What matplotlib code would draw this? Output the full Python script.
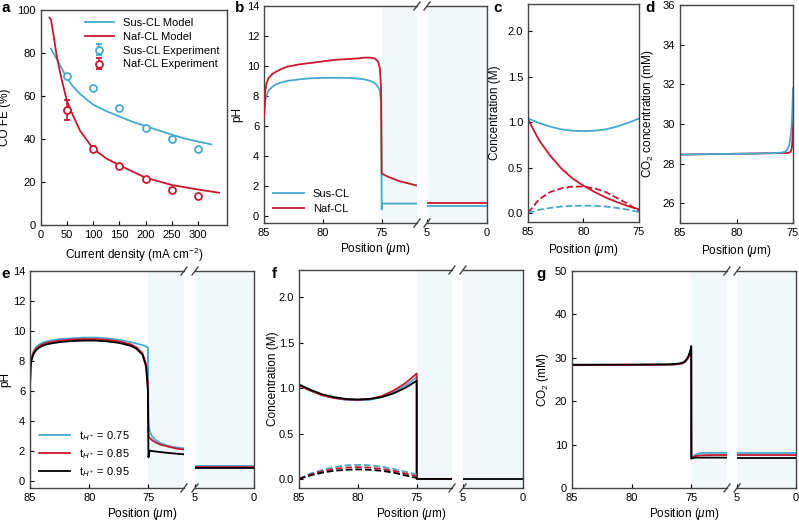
import numpy as np
import matplotlib
matplotlib.use("Agg")
import matplotlib.pyplot as plt
from matplotlib.lines import Line2D

plt.rcParams['font.family'] = ['Liberation Sans', 'DejaVu Sans']
plt.rcParams['mathtext.fontset'] = 'custom'
plt.rcParams['mathtext.rm'] = 'Liberation Sans'
plt.rcParams['mathtext.it'] = 'Liberation Sans:italic'
plt.rcParams['font.size'] = 8
plt.rcParams['axes.edgecolor'] = '#444444'
plt.rcParams['axes.linewidth'] = 1.0
plt.rcParams['xtick.direction'] = 'in'
plt.rcParams['ytick.direction'] = 'in'
plt.rcParams['xtick.major.size'] = 3
plt.rcParams['ytick.major.size'] = 3

BLUE = '#45aacb'
RED = '#c8182f'
BLACK = '#000000'
SHADE = '#f2f7f9'

########### données panneau a (FE CO)
sus_model_j = [20, 30, 40, 50, 60, 75, 100, 125, 150, 175, 200, 225, 250, 275, 300, 325]
sus_model_fe = [82, 77.5, 73, 68.5, 65, 61, 56, 53, 50.5, 48, 46, 44, 42, 40.2, 38.8, 37.5]
naf_model_j = [17, 20, 25, 30, 35, 40, 50, 60, 75, 100, 125, 150, 200, 250, 300, 340]
naf_model_fe = [96.5, 95.5, 88, 80, 73.5, 68, 58, 52, 44, 35.5, 31, 27.8, 22, 18.6, 16.5, 15]
exp_j = [50, 100, 150, 200, 250, 300]
sus_exp_fe = [69.5, 63.5, 54.5, 45.3, 40.0, 35.2]
sus_exp_err = [0.8, 0.8, 0.8, 0.8, 0.8, 0.8]
naf_exp_fe = [53.5, 35.5, 27.3, 21.2, 16.5, 13.5]
naf_exp_err = [4.5, 1.2, 0.8, 0.8, 0.8, 0.6]

########### panneau b (pH Sus-CL / Naf-CL)
b_x = [85, 84.9, 84.8, 84.6, 84.3, 84, 83.5, 83, 82, 81, 80, 79, 78, 77, 76.5, 76, 75.6, 75.3,
       75.15, 75.05, 75.0, 74.98, 74.5, 74, 73.5, 73, 72.5, 72]
b_sus = [6.6, 7.6, 8.0, 8.35, 8.6, 8.75, 8.9, 9.0, 9.1, 9.17, 9.2, 9.2, 9.2, 9.15, 9.1, 9.0, 8.85, 8.6,
         8.3, 7.5, 0.4, 0.8, 0.8, 0.8, 0.8, 0.8, 0.8, 0.8]
b_naf = [6.6, 8.2, 8.8, 9.2, 9.45, 9.6, 9.8, 9.95, 10.1, 10.2, 10.3, 10.4, 10.45, 10.5, 10.55, 10.55, 10.5, 10.3,
         9.8, 8.5, 2.85, 2.8, 2.6, 2.45, 2.3, 2.2, 2.1, 2.0]
b_x_right = [5, 0]
b_sus_right = [0.65, 0.65]
b_naf_right = [0.85, 0.85]

########### panneau c (concentrations)
c_x = [85, 84, 83, 82, 81, 80, 79, 78, 77, 76, 75]
c_sus_solid = [1.04, 0.99, 0.95, 0.92, 0.905, 0.9, 0.905, 0.92, 0.95, 0.99, 1.04]
c_naf_solid = [1.03, 0.8, 0.63, 0.49, 0.38, 0.3, 0.23, 0.17, 0.12, 0.075, 0.04]
c_sus_dash = [0.0, 0.035, 0.055, 0.07, 0.078, 0.08, 0.078, 0.07, 0.055, 0.035, 0.01]
c_naf_dash = [0.0, 0.15, 0.23, 0.27, 0.29, 0.29, 0.27, 0.23, 0.165, 0.1, 0.02]

########### panneau d (CO2)
d_x = [85, 82, 79, 77, 76, 75.7, 75.5, 75.35, 75.2, 75.1, 75.04, 75.0]
d_sus = [28.45, 28.48, 28.5, 28.52, 28.55, 28.6, 28.7, 28.9, 29.4, 30.1, 31.0, 31.8]
d_naf = [28.45, 28.48, 28.5, 28.52, 28.53, 28.53, 28.53, 28.55, 28.6, 28.8, 29.3, 30.2]

########### panneau e (pH, t_H+)
e_x = [85, 84.95, 84.85, 84.7, 84.5, 84.2, 83.8, 83.3, 82.5, 81.5, 80.5, 79.5, 78.5, 77.5, 76.5, 76, 75.5,
       75.2, 75.05, 75.0, 74.9, 74.7, 74.4, 74, 73.5, 73, 72.5, 72]
e_075 = [6.3, 7.8, 8.3, 8.65, 8.9, 9.1, 9.25, 9.35, 9.45, 9.5, 9.55, 9.55, 9.5, 9.4, 9.25, 9.15, 9.05,
         8.95, 8.9, 3.9, 3.3, 2.95, 2.7, 2.5, 2.35, 2.25, 2.2, 2.15]
e_085 = [6.3, 7.7, 8.2, 8.55, 8.8, 9.0, 9.15, 9.25, 9.35, 9.42, 9.45, 9.45, 9.4, 9.3, 9.1, 8.9, 8.5,
         7.8, 6.5, 3.0, 2.85, 2.7, 2.55, 2.4, 2.3, 2.2, 2.12, 2.07]
e_095 = [6.3, 7.6, 8.1, 8.45, 8.7, 8.9, 9.05, 9.15, 9.25, 9.32, 9.35, 9.35, 9.3, 9.2, 9.0, 8.8, 8.4,
         7.6, 6.0, 1.55, 2.0, 1.97, 1.94, 1.9, 1.86, 1.82, 1.78, 1.75]
e_x_right = [5, 0]
e_right = {'0.75': [0.95, 0.95], '0.85': [0.92, 0.92], '0.95': [0.85, 0.85]}

########### panneau f (concentrations, t_H+)
f_x = [85, 84, 83, 82, 81, 80, 79, 78, 77, 76, 75, 75.0, 72]
f_075 = [1.03, 0.97, 0.92, 0.89, 0.87, 0.865, 0.87, 0.9, 0.95, 1.02, 1.12, 0.0, 0.0]
f_085 = [1.03, 0.97, 0.92, 0.89, 0.875, 0.87, 0.88, 0.91, 0.97, 1.05, 1.16, 0.0, 0.0]
f_095 = [1.04, 0.98, 0.93, 0.9, 0.88, 0.875, 0.88, 0.9, 0.94, 1.0, 1.08, 0.0, 0.0]
f_xd = [85, 84, 83, 82, 81, 80, 79, 78, 77, 76, 75]
f_075_d = [0.0, 0.06, 0.1, 0.13, 0.15, 0.155, 0.15, 0.135, 0.11, 0.08, 0.05]
f_085_d = [0.0, 0.05, 0.085, 0.11, 0.125, 0.13, 0.125, 0.11, 0.09, 0.06, 0.03]
f_095_d = [0.0, 0.04, 0.07, 0.09, 0.1, 0.105, 0.1, 0.09, 0.07, 0.04, 0.01]
f_x_right = [5, 0]
f_right = [0.0, 0.0]

########### panneau g (CO2, t_H+)
g_x = [85, 80, 77, 76.5, 76, 75.7, 75.5, 75.3, 75.15, 75.05, 75.0, 74.99, 74.7, 74.3, 74, 73, 72]
g_075 = [28.3, 28.35, 28.4, 28.45, 28.55, 28.75, 29.1, 29.8, 30.7, 31.6, 32.2, 6.8, 7.6, 8.0, 8.1, 8.1, 8.1]
g_085 = [28.3, 28.35, 28.4, 28.45, 28.55, 28.75, 29.1, 29.8, 30.7, 31.6, 32.2, 6.8, 7.3, 7.5, 7.55, 7.6, 7.6]
g_095 = [28.4, 28.45, 28.5, 28.55, 28.7, 28.9, 29.3, 30.0, 31.0, 32.0, 32.7, 6.8, 7.0, 7.0, 7.0, 7.0, 7.0]
g_x_right = [5, 0]
g_right = {'0.75': [8.1, 8.1], '0.85': [7.6, 7.6], '0.95': [7.0, 7.0]}

t_labels = [r'$\mathregular{t}_{H^+}$ = 0.75', r'$\mathregular{t}_{H^+}$ = 0.85', r'$\mathregular{t}_{H^+}$ = 0.95']

W, H = 799, 522
fig = plt.figure(figsize=(W / 100, H / 100), dpi=100)


def box(x0, x1, y0, y1):
    # coordonnées pixels -> fraction de figure
    return [x0 / W, 1 - y1 / H, (x1 - x0) / W, (y1 - y0) / H]


def ylab(ax, texte, x_px, x0, x1):
    # x_px = centre voulu du label ; l'ancre du label y est son bord droit (~5 px plus loin)
    ax.set_ylabel(texte, fontsize=8.5)
    ax.yaxis.set_label_coords((x_px + 5 - x0) / (x1 - x0), 0.5)


def broken(xl0, xl1, xr0, xr1, y0, y1, ylim, yticks):
    axl = fig.add_axes(box(xl0, xl1, y0, y1))
    axr = fig.add_axes(box(xr0, xr1, y0, y1))
    axl.set_xlim(85, 72)
    axr.set_xlim(5, 0)
    for ax in (axl, axr):
        ax.set_ylim(*ylim)
    axl.set_yticks(yticks)
    axr.set_yticks([])
    axl.set_xticks([85, 80, 75])
    axr.set_xticks([5, 0])
    axl.spines['right'].set_visible(False)
    axr.spines['left'].set_visible(False)
    axl.axvspan(75, 72, color=SHADE, zorder=0, lw=0)
    axr.axvspan(5, 0, color=SHADE, zorder=0, lw=0)
    # petits traits de coupure
    for xe in (xl1, xr0):
        for ye in (y0, y1):
            fig.add_artist(Line2D([(xe - 3) / W, (xe + 3) / W], [1 - (ye + 4) / H, 1 - (ye - 4) / H],
                                  color='#444444', lw=1.0))
    fig.text((xl0 + xr1) / 2 / W, 1 - (y1 + 26) / H, r'Position ($\mu$m)', ha='center', va='center', fontsize=8.5)
    return axl, axr


#### panneau a
ax = fig.add_axes(box(40.5, 227, 10, 225))
ax.plot(sus_model_j, sus_model_fe, color=BLUE, lw=1.3, label='Sus-CL Model')
ax.plot(naf_model_j, naf_model_fe, color=RED, lw=1.3, label='Naf-CL Model')
ax.errorbar(exp_j, sus_exp_fe, yerr=sus_exp_err, fmt='o', mfc='white', mec=BLUE, ecolor=BLUE,
            ms=5, mew=1.3, capsize=2, elinewidth=1.2, label='Sus-CL Experiment', zorder=3)
ax.errorbar(exp_j, naf_exp_fe, yerr=naf_exp_err, fmt='o', mfc='white', mec=RED, ecolor=RED,
            ms=5, mew=1.3, capsize=2, elinewidth=1.2, label='Naf-CL Experiment', zorder=3)
ax.set_xlim(0, 355)
ax.set_ylim(0, 100)
ax.set_xticks([0, 50, 100, 150, 200, 250, 300])
ax.set_yticks([0, 20, 40, 60, 80, 100])
ax.set_xlabel(r'Current density (mA cm$^{-2}$)', fontsize=8.5)
ylab(ax, 'CO FE (%)', 6, 40.5, 227)
ax.legend(loc='upper right', frameon=False, fontsize=8, handlelength=2.6, borderaxespad=0.3,
          labelspacing=0.35)

#### panneau b
axl, axr = broken(264, 417, 427, 487, 6, 223, (-0.5, 14), [0, 2, 4, 6, 8, 10, 12, 14])
axl.plot(b_x, b_sus, color=BLUE, lw=1.3, label='Sus-CL', zorder=2)
axl.plot(b_x, b_naf, color=RED, lw=1.3, label='Naf-CL', zorder=3)
axr.plot(b_x_right, b_sus_right, color=BLUE, lw=1.3)
axr.plot(b_x_right, b_naf_right, color=RED, lw=1.3)
ylab(axl, 'pH', 238, 264, 417)
axl.legend(loc='lower left', frameon=False, fontsize=8, handlelength=2.8, borderaxespad=0.4)

#### panneau c
ax = fig.add_axes(box(528, 639, 4, 222))
ax.plot(c_x, c_sus_solid, color=BLUE, lw=1.3)
ax.plot(c_x, c_naf_solid, color=RED, lw=1.3)
ax.plot(c_x, c_naf_dash, color=RED, lw=1.3, ls='--')
ax.plot(c_x, c_sus_dash, color=BLUE, lw=1.3, ls='--')
ax.set_xlim(85, 75)
ax.set_ylim(-0.1, 2.3)
ax.set_xticks([85, 80, 75])
ax.set_yticks([0, 0.5, 1.0, 1.5, 2.0])
ylab(ax, 'Concentration (M)', 496, 528, 639)
ax.set_xlabel(r'Position ($\mu$m)', fontsize=8.5)

#### panneau d
ax = fig.add_axes(box(680, 793, 5, 223))
ax.plot(d_x, d_naf, color=RED, lw=1.3)
ax.plot(d_x, d_sus, color=BLUE, lw=1.3)
ax.set_xlim(85, 75)
ax.set_ylim(25, 36)
ax.set_xticks([85, 80, 75])
ax.set_yticks([26, 28, 30, 32, 34, 36])
ylab(ax, r'CO$_2$ concentration (mM)', 651, 680, 793)
ax.set_xlabel(r'Position ($\mu$m)', fontsize=8.5)

#### panneau e
axl, axr = broken(30, 184, 195, 254, 271, 488, (-0.5, 14), [0, 2, 4, 6, 8, 10, 12, 14])
for ys, c, lab in zip([e_075, e_085, e_095], [BLUE, RED, BLACK], t_labels):
    axl.plot(e_x, ys, color=c, lw=1.3, label=lab)
for k, c in zip(['0.75', '0.85', '0.95'], [BLUE, RED, BLACK]):
    axr.plot(e_x_right, e_right[k], color=c, lw=1.3)
ylab(axl, 'pH', 6, 30, 184)
axl.legend(loc='lower left', frameon=False, fontsize=8, handlelength=2.8, borderaxespad=0.4,
           labelspacing=0.4)

#### panneau f
axl, axr = broken(299, 452, 463, 523, 270, 488, (-0.1, 2.3), [0, 0.5, 1.0, 1.5, 2.0])
for ys, c in zip([f_075, f_085, f_095], [BLUE, RED, BLACK]):
    axl.plot(f_x, ys, color=c, lw=1.3)
for ys, c in zip([f_075_d, f_085_d, f_095_d], [BLUE, RED, BLACK]):
    axl.plot(f_xd, ys, color=c, lw=1.3, ls='--')
axr.plot(f_x_right, f_right, color=BLACK, lw=1.3)
ylab(axl, 'Concentration (M)', 274, 299, 452)

#### panneau g
axl, axr = broken(572, 727, 737, 796, 271, 488, (0, 50), [0, 10, 20, 30, 40, 50])
for ys, c in zip([g_075, g_085, g_095], [BLUE, RED, BLACK]):
    axl.plot(g_x, ys, color=c, lw=1.3)
for k, c in zip(['0.75', '0.85', '0.95'], [BLUE, RED, BLACK]):
    axr.plot(g_x_right, g_right[k], color=c, lw=1.3)
ylab(axl, r'CO$_2$ (mM)', 546, 572, 727)

# lettres des panneaux
for lettre, xp, yp in [('a', 6, 8), ('b', 240, 8), ('c', 498, 8), ('d', 650, 8),
                       ('e', 6, 274), ('f', 274, 274), ('g', 541, 274)]:
    fig.text(xp / W, 1 - yp / H, lettre, fontsize=11, fontweight='bold', ha='center', va='center')

fig.savefig('out.png', dpi=100)
